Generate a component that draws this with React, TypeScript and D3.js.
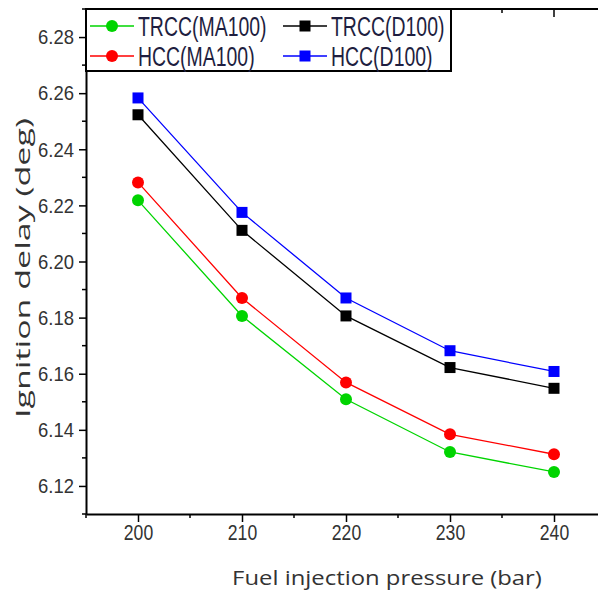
import React, { useEffect, useRef } from "react";
import * as d3 from "d3";

const pressures = [200, 210, 220, 230, 240];
const trccMA100 = [6.2218, 6.1806, 6.1509, 6.1321, 6.125];
const hccMA100 = [6.2282, 6.187, 6.1569, 6.1384, 6.1313];
const trccD100 = [6.2523, 6.2111, 6.1806, 6.1622, 6.1548];
const hccD100 = [6.2583, 6.2175, 6.187, 6.1682, 6.1608];
const seriesNames = ["TRCC(MA100)", "HCC(MA100)", "TRCC(D100)", "HCC(D100)"];
const seriesColors = ["#00d400", "#ff0000", "#000000", "#0000ff"];
const seriesShapes = ["circle", "circle", "square", "square"];
const xTicks = [200, 210, 220, 230, 240];
const yTicks = [6.12, 6.14, 6.16, 6.18, 6.2, 6.22, 6.24, 6.26, 6.28];

const W = 598;
const H = 595;

const App = () => {
  const svgRef = useRef<SVGSVGElement>(null);

  useEffect(() => {
    const svg = d3.select(svgRef.current);
    svg.selectAll("*").remove();

    const left = 86,
      right = 606,
      top = 9,
      bottom = 514;

    const x = d3.scaleLinear().domain([195, 245]).range([left, right]);
    const y = d3.scaleLinear().domain([6.11, 6.29]).range([bottom, top]);

    const values = [trccMA100, hccMA100, trccD100, hccD100];
    const tickFont = "'Liberation Sans', Arial, sans-serif";

    // minor ticks
    const xMinor = d3.range(195, 246, 5).filter((v) => v % 10 !== 0);
    const yMinor = d3.range(6.11, 6.295, 0.02);

    const g = svg.append("g");

    // squeeze text horizontally (the original looks condensed)
    const squeeze = (sel, k) =>
      sel.each(function () {
        const len = this.getComputedTextLength();
        d3.select(this).attr("textLength", len * k).attr("lengthAdjust", "spacingAndGlyphs");
      });

    // left axis
    const yAxis = d3
      .axisLeft(y)
      .tickValues(yTicks)
      .tickFormat(d3.format(".2f"))
      .tickSizeInner(7)
      .tickSizeOuter(0)
      .tickPadding(5);
    const ya = g.append("g").attr("transform", `translate(${left},0)`).call(yAxis);
    ya.select(".domain").attr("stroke-width", 2);
    ya.selectAll(".tick line").attr("stroke-width", 1.5);
    ya.selectAll("text")
      .attr("font-family", tickFont)
      .attr("font-size", 21)
      .attr("fill", "#333");
    g.append("g")
      .selectAll("line")
      .data(yMinor)
      .join("line")
      .attr("x1", left - 4)
      .attr("x2", left)
      .attr("y1", (d) => y(d))
      .attr("y2", (d) => y(d))
      .attr("stroke", "#000")
      .attr("stroke-width", 1.5);

    // right axis (inward ticks)
    g.append("line")
      .attr("x1", right)
      .attr("x2", right)
      .attr("y1", top)
      .attr("y2", bottom)
      .attr("stroke", "#000")
      .attr("stroke-width", 2);
    g.append("g")
      .selectAll("line")
      .data(yTicks)
      .join("line")
      .attr("x1", right - 8)
      .attr("x2", right)
      .attr("y1", (d) => y(d))
      .attr("y2", (d) => y(d))
      .attr("stroke", "#999")
      .attr("stroke-width", 1);

    // bottom axis
    const xAxis = d3
      .axisBottom(x)
      .tickValues(xTicks)
      .tickFormat(d3.format("d"))
      .tickSizeInner(8)
      .tickSizeOuter(0)
      .tickPadding(2);
    const xa = g.append("g").attr("transform", `translate(0,${bottom})`).call(xAxis);
    xa.select(".domain").attr("stroke-width", 2);
    xa.selectAll(".tick line").attr("stroke-width", 1.5);
    xa.selectAll("text")
      .attr("font-family", tickFont)
      .attr("font-size", 22)
      .attr("fill", "#333");
    g.append("g")
      .selectAll("line")
      .data(xMinor)
      .join("line")
      .attr("x1", (d) => x(d))
      .attr("x2", (d) => x(d))
      .attr("y1", bottom)
      .attr("y2", bottom + 4)
      .attr("stroke", "#000")
      .attr("stroke-width", 1.5);

    // top axis (inward ticks)
    g.append("line")
      .attr("x1", left)
      .attr("x2", right)
      .attr("y1", top)
      .attr("y2", top)
      .attr("stroke", "#000")
      .attr("stroke-width", 2);
    g.append("g")
      .selectAll("line")
      .data([...xTicks.map((v) => ({ v, l: 8 })), ...xMinor.map((v) => ({ v, l: 4 }))])
      .join("line")
      .attr("x1", (d) => x(d.v))
      .attr("x2", (d) => x(d.v))
      .attr("y1", top)
      .attr("y2", (d) => top + d.l)
      .attr("stroke", "#000")
      .attr("stroke-width", 1.5);

    squeeze(ya.selectAll("text"), 0.88);
    squeeze(xa.selectAll("text"), 0.8);

    // series
    const line = d3
      .line<number>()
      .x((d, i) => x(pressures[i]))
      .y((d) => y(d));

    const drawMarker = (sel, shape, color, cx, cy) => {
      if (shape === "circle") {
        sel.append("circle").attr("cx", cx).attr("cy", cy).attr("r", 6).attr("fill", color);
      } else {
        sel
          .append("rect")
          .attr("x", cx - 5.5)
          .attr("y", cy - 5.5)
          .attr("width", 11)
          .attr("height", 11)
          .attr("fill", color);
      }
    };

    values.forEach((vals, si) => {
      const sg = g.append("g");
      sg.append("path")
        .datum(vals)
        .attr("fill", "none")
        .attr("stroke", seriesColors[si])
        .attr("stroke-width", 1.3)
        .attr("d", line);
      vals.forEach((v, i) => drawMarker(sg, seriesShapes[si], seriesColors[si], x(pressures[i]), y(v)));
    });

    // legend
    const lg = g.append("g");
    lg.append("rect")
      .attr("x", left)
      .attr("y", top)
      .attr("width", 451 - left)
      .attr("height", 71 - top)
      .attr("fill", "#fff")
      .attr("stroke", "#000")
      .attr("stroke-width", 2);
    const colX = [90, 283];
    const rowY = [26, 56];
    const order = [
      [0, 0],
      [1, 0],
      [0, 1],
      [1, 1],
    ]; // [row, col] for each series
    seriesNames.forEach((name, si) => {
      const [r, c] = order[si];
      const lx = colX[c];
      const ly = rowY[r];
      lg.append("line")
        .attr("x1", lx)
        .attr("x2", lx + 44)
        .attr("y1", ly)
        .attr("y2", ly)
        .attr("stroke", seriesColors[si])
        .attr("stroke-width", 1.5);
      drawMarker(lg, seriesShapes[si], seriesColors[si], lx + 22, ly);
      const t = lg
        .append("text")
        .attr("x", lx + 48)
        .attr("y", ly + 9.5)
        .attr("font-family", tickFont)
        .attr("font-size", 27)
        .attr("fill", "#1e1e40")
        .text(name);
      squeeze(t, 0.72);
    });

    // axis titles, scaled along their own direction to the original length
    const title = (tx, ty, rot, len, label) => {
      const tg = g.append("g").attr("transform", `translate(${tx},${ty}) rotate(${rot})`);
      const t = tg
        .append("text")
        .attr("text-anchor", "middle")
        .attr("font-family", "'Open Sans', sans-serif")
        .attr("font-size", 20)
        .attr("fill", "#333")
        .text(label);
      const k = len / (t.node() as SVGTextElement).getComputedTextLength();
      t.attr("transform", `scale(${k},1)`);
    };
    title(387, 585, 0, 310, "Fuel injection pressure (bar)");
    title(30, 268, -90, 300, "Ignition delay (deg)");
  }, []);

  return (
    <div style={{ position: "absolute", left: 0, top: 0 }}>
      <svg ref={svgRef} width={W} height={H} style={{ display: "block", background: "#fff" }}></svg>
    </div>
  );
};

export default App;
